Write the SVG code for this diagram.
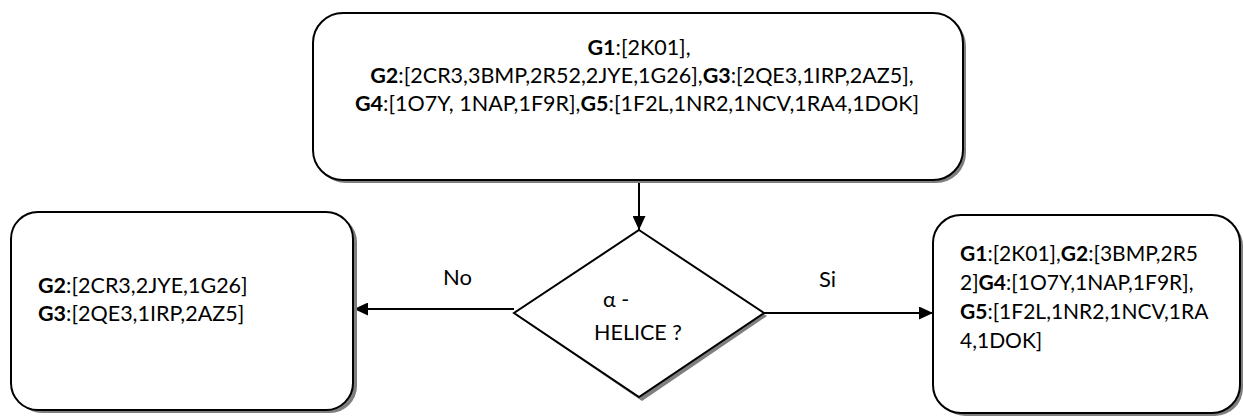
<svg xmlns="http://www.w3.org/2000/svg" width="1243" height="417" viewBox="0 0 1243 417">
  <defs>
    <style>
      .box { fill: #ffffff; stroke: #000000; stroke-width: 2; }
      .shadow { fill: #7f7f7f; stroke: none; }
      .txt { font-family: Lato, "Open Sans", "Liberation Sans", sans-serif; font-size: 21.5px; fill: #000000; }
      .sm { font-size: 21px; }
      .lbl { font-family: Lato, "Open Sans", "Liberation Sans", sans-serif; font-size: 22px; fill: #000000; }
      .b { font-weight: bold; }
      .conn { stroke: #000000; stroke-width: 2; fill: none; }
    </style>
    <marker id="arrow" viewBox="0 0 14 13" refX="14" refY="6.5" markerWidth="14" markerHeight="13" markerUnits="userSpaceOnUse" orient="auto">
      <path d="M0,0 L14,6.5 L0,13 Z" fill="#000000"/>
    </marker>
  </defs>

  <!-- connectors -->
  <g id="connectors">
    <line class="conn" x1="639" y1="181" x2="639" y2="230" marker-end="url(#arrow)"/>
    <line class="conn" x1="514" y1="309" x2="354" y2="309" marker-end="url(#arrow)"/>
    <line class="conn" x1="764" y1="313" x2="933" y2="313" marker-end="url(#arrow)"/>
    <text class="lbl" x="443" y="285">No</text>
    <text class="lbl" x="819" y="287">Si</text>
  </g>

  <!-- top: all groups -->
  <g id="node-all">
    <rect class="shadow" x="316" y="16" width="650" height="167" rx="30"/>
    <rect class="box" x="313" y="13" width="650" height="167" rx="30"/>
    <text class="txt" x="639" y="55" text-anchor="middle"><tspan class="b">G1</tspan>:[2K01],</text>
    <text class="txt" x="642" y="83" text-anchor="middle"><tspan class="b">G2</tspan>:[2CR3,3BMP,2R52,2JYE,1G26],<tspan class="b">G3</tspan>:[2QE3,1IRP,2AZ5],</text>
    <text class="txt" x="637" y="111" text-anchor="middle"><tspan class="b">G4</tspan>:[1O7Y, 1NAP,1F9R],<tspan class="b">G5</tspan>:[1F2L,1NR2,1NCV,1RA4,1DOK]</text>
  </g>

  <!-- decision -->
  <g id="node-decision">
    <polygon class="shadow" points="642,233 767,316 642,401 517,316"/>
    <polygon class="box" points="639,230 764,313 639,397 514,313"/>
    <text class="txt" x="603" y="307">α -</text>
    <text class="txt" x="638" y="340" text-anchor="middle">HELICE ?</text>
  </g>

  <!-- left: no -->
  <g id="node-no">
    <rect class="shadow" x="15" y="215" width="342" height="198" rx="27"/>
    <rect class="box" x="11" y="212" width="342" height="198" rx="27"/>
    <text class="txt" x="38" y="293"><tspan class="b">G2</tspan>:[2CR3,2JYE,1G26]</text>
    <text class="txt" x="38" y="321"><tspan class="b">G3</tspan>:[2QE3,1IRP,2AZ5]</text>
  </g>

  <!-- right: yes -->
  <g id="node-yes">
    <rect class="shadow" x="937" y="218" width="306" height="198" rx="28"/>
    <rect class="box" x="933" y="215" width="307" height="198" rx="28"/>
    <text class="txt sm" x="960" y="261"><tspan class="b">G1</tspan>:[2K01],<tspan class="b">G2</tspan>:[3BMP,2R5</text>
    <text class="txt sm" x="960" y="290">2]<tspan class="b">G4</tspan>:[1O7Y,1NAP,1F9R],</text>
    <text class="txt sm" x="960" y="319"><tspan class="b">G5</tspan>:[1F2L,1NR2,1NCV,1RA</text>
    <text class="txt sm" x="960" y="348">4,1DOK]</text>
  </g>
</svg>
